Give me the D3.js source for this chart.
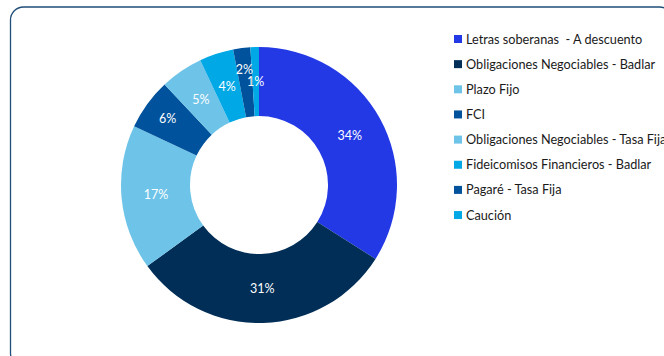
<!DOCTYPE html>
<html>
<head>
<meta charset="utf-8">
<script src="https://cdn.jsdelivr.net/npm/d3@7"></script>
<style>
  html, body { margin: 0; padding: 0; background: #fff; overflow: hidden; }
  svg { display: block; }
  .legend-label { white-space: pre; }
</style>
</head>
<body>
<svg id="chart" width="664" height="356"></svg>
<script>
// Portfolio composition by instrument (percent of total)
const categories = [
  "Letras soberanas  - A descuento",
  "Obligaciones Negociables - Badlar",
  "Plazo Fijo",
  "FCI",
  "Obligaciones Negociables - Tasa Fija",
  "Fideicomisos Financieros - Badlar",
  "Pagaré - Tasa Fija",
  "Caución"
];
const shares = [34, 31, 17, 6, 5, 4, 2, 1];
const colors = ["#2339E6", "#002E56", "#6DC3E8", "#00529C", "#6DC3E8", "#00A8E6", "#00529C", "#00A8E6"];
// Radial position of each percentage label (null = arc centroid)
const labelRadius = [null, null, null, 113, null, null, 116, null];

const data = categories.map((name, i) => ({ name, value: shares[i], color: colors[i], lr: labelRadius[i] }));

const svg = d3.select("#chart");

// Rounded frame around the chart area
svg.append("rect")
  .attr("x", 10.5).attr("y", 7)
  .attr("width", 662).attr("height", 359)
  .attr("rx", 13).attr("ry", 13)
  .attr("fill", "none")
  .attr("stroke", "#1F4E79")
  .attr("stroke-width", 1.3);

const cx = 259, cy = 185, outerR = 138, innerR = 69;

const pie = d3.pie().value(d => d.value).sort(null);
const arc = d3.arc().innerRadius(innerR).outerRadius(outerR);

const g = svg.append("g").attr("transform", `translate(${cx},${cy})`);
const arcs = pie(data);

g.selectAll("path.slice")
  .data(arcs)
  .join("path")
  .attr("class", "slice")
  .attr("d", arc)
  .attr("fill", d => d.data.color);

function labelPos(d) {
  if (d.data.lr == null) return arc.centroid(d);
  return d3.arc().innerRadius(d.data.lr).outerRadius(d.data.lr).centroid(d);
}

g.selectAll("text.pct")
  .data(arcs)
  .join("text")
  .attr("class", "pct")
  .attr("transform", d => `translate(${labelPos(d)})`)
  .attr("text-anchor", "middle")
  .attr("dy", "0.35em")
  .attr("fill", "#fff")
  .attr("font-family", "Lato, 'Open Sans', sans-serif")
  .attr("font-size", 12.5)
  .text(d => d3.format(".0f")(d.data.value) + "%");

// Legend
const legend = svg.append("g").attr("transform", "translate(454,35)");
const rows = legend.selectAll("g.row")
  .data(data)
  .join("g")
  .attr("class", "row")
  .attr("transform", (d, i) => `translate(0,${i * 25.15})`);

rows.append("rect")
  .attr("width", 8).attr("height", 8)
  .attr("fill", d => d.color);

rows.append("text")
  .attr("class", "legend-label")
  .attr("x", 12)
  .attr("y", 8.5)
  .attr("fill", "#1a1a1a")
  .attr("font-family", "Lato, 'Open Sans', sans-serif")
  .attr("font-size", 12.7)
  .text(d => d.name);
</script>
</body>
</html>
